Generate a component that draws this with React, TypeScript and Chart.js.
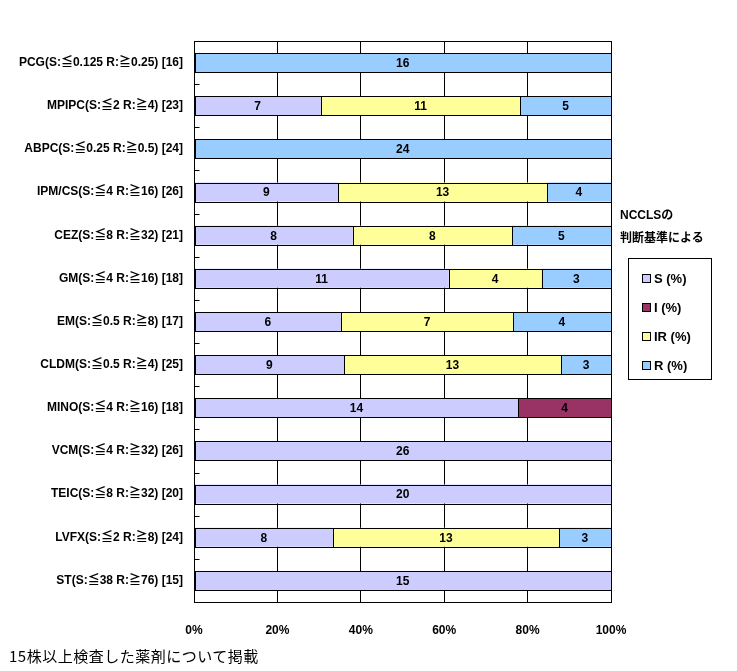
import React, { useEffect, useRef } from "react";
import { Chart, registerables } from "chart.js";

Chart.register(...registerables);

const categories = [
  "PCG(S:≦0.125 R:≧0.25) [16]",
  "MPIPC(S:≦2 R:≧4) [23]",
  "ABPC(S:≦0.25 R:≧0.5) [24]",
  "IPM/CS(S:≦4 R:≧16) [26]",
  "CEZ(S:≦8 R:≧32) [21]",
  "GM(S:≦4 R:≧16) [18]",
  "EM(S:≦0.5 R:≧8) [17]",
  "CLDM(S:≦0.5 R:≧4) [25]",
  "MINO(S:≦4 R:≧16) [18]",
  "VCM(S:≦4 R:≧32) [26]",
  "TEIC(S:≦8 R:≧32) [20]",
  "LVFX(S:≦2 R:≧8) [24]",
  "ST(S:≦38 R:≧76) [15]",
];

// strain counts per category
const sCounts = [0, 7, 0, 9, 8, 11, 6, 9, 14, 26, 20, 8, 15];
const iCounts = [0, 0, 0, 0, 0, 0, 0, 0, 4, 0, 0, 0, 0];
const irCounts = [0, 11, 0, 13, 8, 4, 7, 13, 0, 0, 0, 13, 0];
const rCounts = [16, 5, 24, 4, 5, 3, 4, 3, 0, 0, 0, 3, 0];

const seriesLabels = ["S (%)", "I (%)", "IR (%)", "R (%)"];
const seriesColors = ["#CCCCFF", "#993366", "#FFFF99", "#99CCFF"];
const seriesCounts = [sCounts, iCounts, irCounts, rCounts];

const xTicks = [0, 20, 40, 60, 80, 100];

const totals = categories.map((_, i) =>
  seriesCounts.reduce((sum, arr) => sum + arr[i], 0)
);

const FONT = "'Liberation Sans', 'Noto Sans CJK JP', sans-serif";

// crisp black outline + count label on every segment
const barDecor = {
  id: "barDecor",
  afterDatasetsDraw(chart: any) {
    const { ctx } = chart;
    ctx.save();
    ctx.strokeStyle = "#000";
    ctx.lineWidth = 1;
    chart.data.datasets.forEach((_: any, di: number) => {
      const meta = chart.getDatasetMeta(di);
      meta.data.forEach((bar: any, i: number) => {
        if (!seriesCounts[di][i]) return;
        const x0 = Math.round(Math.min(bar.x, bar.base));
        const x1 = Math.round(Math.max(bar.x, bar.base));
        const y0 = Math.round(bar.y - bar.height / 2);
        const y1 = Math.round(bar.y + bar.height / 2);
        ctx.strokeRect(x0 + 0.5, y0 + 0.5, x1 - x0, y1 - y0);
      });
    });
    ctx.font = `bold 12px ${FONT}`;
    ctx.fillStyle = "#000";
    ctx.textAlign = "center";
    ctx.textBaseline = "middle";
    chart.data.datasets.forEach((_: any, di: number) => {
      const meta = chart.getDatasetMeta(di);
      meta.data.forEach((bar: any, i: number) => {
        const n = seriesCounts[di][i];
        if (!n) return;
        ctx.fillText(String(n), (bar.x + bar.base) / 2, bar.y + 1);
      });
    });
    ctx.restore();
  },
};

const frame = {
  id: "frame",
  afterDraw(chart: any) {
    const { ctx, chartArea } = chart;
    const y = chart.scales.y;
    ctx.save();
    ctx.strokeStyle = "#000";
    ctx.lineWidth = 1;
    const l = Math.round(chartArea.left) + 0.5;
    const t = Math.round(chartArea.top) + 0.5;
    const r = Math.round(chartArea.right) + 0.5;
    const b = Math.round(chartArea.bottom) + 0.5;
    ctx.strokeRect(l, t, r - l, b - t);
    ctx.beginPath();
    for (let i = 0; i < categories.length - 1; i++) {
      const py = Math.round((y.getPixelForValue(i) + y.getPixelForValue(i + 1)) / 2) + 0.5;
      ctx.moveTo(l, py);
      ctx.lineTo(l + 5, py);
    }
    ctx.stroke();
    ctx.restore();
  },
};

function App() {
  const canvasRef = useRef<HTMLCanvasElement>(null);

  useEffect(() => {
    const ctx = canvasRef.current?.getContext("2d");
    if (!ctx) return;
    const chart = new Chart(ctx, {
      type: "bar",
      data: {
        labels: categories,
        datasets: seriesCounts.map((counts, si) => ({
          label: seriesLabels[si],
          data: counts.map((c, i) => (c ? (c / totals[i]) * 100 : null)),
          backgroundColor: seriesColors[si],
          borderWidth: 0,
          categoryPercentage: 1,
          barPercentage: 0.44,
        })),
      },
      options: {
        indexAxis: "y",
        animation: false,
        responsive: false,
        layout: { padding: { top: 41, right: 126, bottom: 0, left: 0 } },
        plugins: {
          legend: { display: false },
          tooltip: { enabled: false },
        },
        scales: {
          x: {
            stacked: true,
            min: 0,
            max: 100,
            afterBuildTicks: (scale: any) => {
              scale.ticks = xTicks.map((v) => ({ value: v }));
            },
            afterFit: (scale: any) => {
              scale.height = 69;
            },
            grid: { color: "#000", drawTicks: false },
            border: { display: true, color: "#000" },
            ticks: {
              padding: 21,
              color: "#000",
              font: { family: FONT, size: 12, weight: "bold" },
              callback: (v: any) => `${v}%`,
            },
          },
          y: {
            stacked: true,
            afterFit: (scale: any) => {
              scale.width = 194;
            },
            grid: { display: false, drawTicks: false },
            border: { display: true, color: "#000" },
            ticks: {
              padding: 11,
              color: "#000",
              autoSkip: false,
              font: { family: FONT, size: 12, weight: "bold" },
            },
          },
        },
      },
      plugins: [barDecor, frame],
    });
    return () => {
      chart.destroy();
    };
  }, []);

  return (
    <div
      style={{
        position: "absolute",
        left: 0,
        top: 0,
        width: 737,
        height: 671,
        background: "#fff",
        fontFamily: FONT,
      }}
    >
      <canvas ref={canvasRef} width={737} height={671} />
      <div
        style={{
          position: "absolute",
          left: 620,
          top: 204,
          fontSize: 12,
          fontWeight: "bold",
          lineHeight: "23px",
        }}
      >
        NCCLSの
        <br />
        判断基準による
      </div>
      <div
        style={{
          position: "absolute",
          left: 628,
          top: 258,
          width: 82,
          height: 120,
          border: "1px solid #000",
        }}
      >
        {seriesLabels.map((label, i) => (
          <div
            key={label}
            style={{
              position: "absolute",
              left: 13,
              top: 11 + i * 29,
              display: "flex",
              alignItems: "center",
              fontSize: 13,
              fontWeight: "bold",
              height: 16,
            }}
          >
            <span
              style={{
                display: "inline-block",
                width: 7,
                height: 7,
                border: "1px solid #000",
                background: seriesColors[i],
                marginRight: 3,
              }}
            />
            {label}
          </div>
        ))}
      </div>
      <div
        style={{
          position: "absolute",
          left: 9,
          top: 645,
          fontSize: 15,
          letterSpacing: 0.5,
          fontFamily: "'Noto Sans CJK JP', sans-serif",
          whiteSpace: "nowrap",
        }}
      >
        15株以上検査した薬剤について掲載
      </div>
    </div>
  );
}

export default App;
